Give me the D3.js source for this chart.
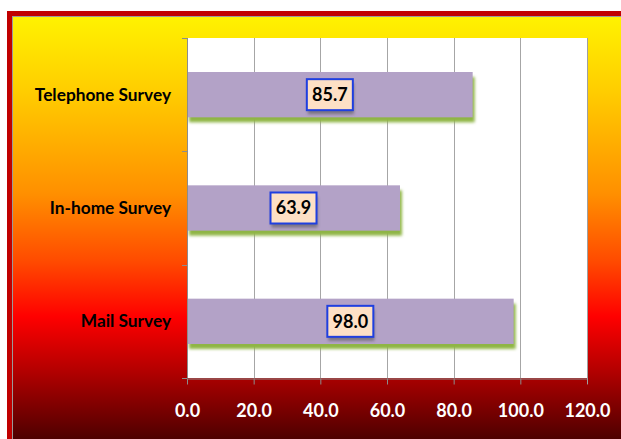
<!DOCTYPE html>
<html>
<head>
<meta charset="utf-8">
<script src="https://cdn.jsdelivr.net/npm/d3@7/dist/d3.min.js"></script>
<style>
  html, body { margin: 0; padding: 0; background: #ffffff; }
  svg { display: block; }
</style>
</head>
<body>
<svg id="chart" width="621" height="439"></svg>
<script>
// Survey response rates by method
const categories = ["Telephone Survey", "In-home Survey", "Mail Survey"];
const values = [85.7, 63.9, 98.0];
const xTicks = [0, 20, 40, 60, 80, 100, 120];

const W = 621, H = 439;
const plot = { left: 187, right: 587, top: 38, bottom: 378 };
const font = "Lato, 'Open Sans', sans-serif";

const svg = d3.select("#chart");
const defs = svg.append("defs");

// Background fill of the chart area: yellow down to dark red
const grad = defs.append("linearGradient")
  .attr("id", "bg")
  .attr("gradientUnits", "userSpaceOnUse")
  .attr("x1", 0).attr("y1", 17).attr("x2", 0).attr("y2", H);
[
  [0.00, "#fff200"],
  [0.18, "#ffcc00"],
  [0.42, "#ff8f00"],
  [0.58, "#ff4a00"],
  [0.71, "#ff0000"],
  [0.83, "#b80000"],
  [1.00, "#4e0000"]
].forEach(([o, c]) => grad.append("stop").attr("offset", o).attr("stop-color", c));

const blurBar = defs.append("filter").attr("id", "barShadow")
  .attr("x", "-5%").attr("y", "-30%").attr("width", "110%").attr("height", "160%");
blurBar.append("feGaussianBlur").attr("stdDeviation", 1.6);

const blurLbl = defs.append("filter").attr("id", "lblShadow")
  .attr("x", "-30%").attr("y", "-30%").attr("width", "160%").attr("height", "180%");
blurLbl.append("feGaussianBlur").attr("stdDeviation", 1.5);

// Red frame and chart area
svg.append("rect").attr("x", 7).attr("y", 11).attr("width", W).attr("height", H)
  .attr("fill", "#c00000");
svg.append("rect").attr("x", 12.5).attr("y", 16.5).attr("width", W).attr("height", H)
  .attr("fill", "url(#bg)").attr("stroke", "#9a9a9a").attr("stroke-width", 1);

// Scales
const x = d3.scaleLinear().domain([0, 120]).range([plot.left, plot.right]);
const y = d3.scaleBand().domain(categories)
  .range([plot.top, plot.bottom]).paddingInner(0.6).paddingOuter(0.3);

// Plot area
svg.append("rect")
  .attr("x", plot.left).attr("y", plot.top)
  .attr("width", plot.right - plot.left).attr("height", plot.bottom - plot.top)
  .attr("fill", "#ffffff");

// Vertical gridlines
svg.append("g").selectAll("line").data(xTicks.slice(1)).join("line")
  .attr("x1", d => Math.round(x(d)) + 0.5).attr("x2", d => Math.round(x(d)) + 0.5)
  .attr("y1", plot.top).attr("y2", plot.bottom)
  .attr("stroke", "#a6a6a6").attr("stroke-width", 1);

// Bars with soft green shadow underneath
const bars = svg.append("g");
categories.forEach((c, i) => {
  const bx = x(0), by = y(c), bw = x(values[i]) - x(0), bh = y.bandwidth();
  bars.append("rect")
    .attr("x", bx + 2).attr("y", by + 5).attr("width", bw).attr("height", bh)
    .attr("fill", "#8fb545").attr("filter", "url(#barShadow)");
  bars.append("rect")
    .attr("x", bx).attr("y", by).attr("width", bw).attr("height", bh)
    .attr("fill", "#b3a2c7");
});

// Bottom axis
const xAxis = svg.append("g")
  .attr("transform", `translate(0,${plot.bottom + 0.5})`)
  .call(d3.axisBottom(x).tickValues(xTicks).tickFormat(d3.format(".1f"))
    .tickSizeInner(6).tickSizeOuter(0).tickPadding(20));
xAxis.select(".domain").attr("stroke", "#8c8c8c");
xAxis.selectAll(".tick line").attr("stroke", "#8c8c8c");
xAxis.selectAll(".tick text")
  .attr("fill", "#ffffff").attr("font-family", font)
  .attr("font-size", 18).attr("font-weight", "bold");

// Left axis with ticks between categories
const bounds = [plot.top].concat(categories.map(c => y(c) + y.bandwidth() + y.step() * y.paddingInner() / 2));
bounds[bounds.length - 1] = plot.bottom;
const yAxis = svg.append("g");
yAxis.append("line")
  .attr("x1", plot.left + 0.5).attr("x2", plot.left + 0.5)
  .attr("y1", plot.top).attr("y2", plot.bottom)
  .attr("stroke", "#8c8c8c");
yAxis.selectAll("line.t").data(bounds).join("line").attr("class", "t")
  .attr("x1", plot.left - 5).attr("x2", plot.left)
  .attr("y1", d => Math.round(d) + 0.5).attr("y2", d => Math.round(d) + 0.5)
  .attr("stroke", "#8c8c8c");
yAxis.selectAll("text").data(categories).join("text")
  .attr("x", 171).attr("y", d => y(d) + y.bandwidth() / 2)
  .attr("dy", "0.35em").attr("text-anchor", "end")
  .attr("font-family", font).attr("font-size", 17.3).attr("font-weight", "bold")
  .attr("fill", "#000000").text(d => d);

// Right border of plot area
svg.append("line")
  .attr("x1", plot.right + 0.5).attr("x2", plot.right + 0.5)
  .attr("y1", plot.top).attr("y2", plot.bottom + 6)
  .attr("stroke", "#a0a0a0");

// Value labels in the middle of each bar
const labels = svg.append("g");
categories.forEach((c, i) => {
  const cx = (x(0) + x(values[i])) / 2;
  const cy = y(c) + y.bandwidth() / 2;
  const bw = 46, bh = 31;
  labels.append("rect")
    .attr("x", cx - bw / 2 + 1).attr("y", cy - bh / 2 + 4)
    .attr("width", bw).attr("height", bh)
    .attr("fill", "#555555").attr("opacity", 0.6).attr("filter", "url(#lblShadow)");
  labels.append("rect")
    .attr("x", cx - bw / 2).attr("y", cy - bh / 2)
    .attr("width", bw).attr("height", bh)
    .attr("fill", "#fde0c5").attr("stroke", "#1f3fe0").attr("stroke-width", 2);
  labels.append("text")
    .attr("x", cx).attr("y", cy).attr("dy", "0.36em")
    .attr("text-anchor", "middle")
    .attr("font-family", font).attr("font-size", 18).attr("font-weight", "bold")
    .attr("fill", "#000000").text(d3.format(".1f")(values[i]));
});
</script>
</body>
</html>
